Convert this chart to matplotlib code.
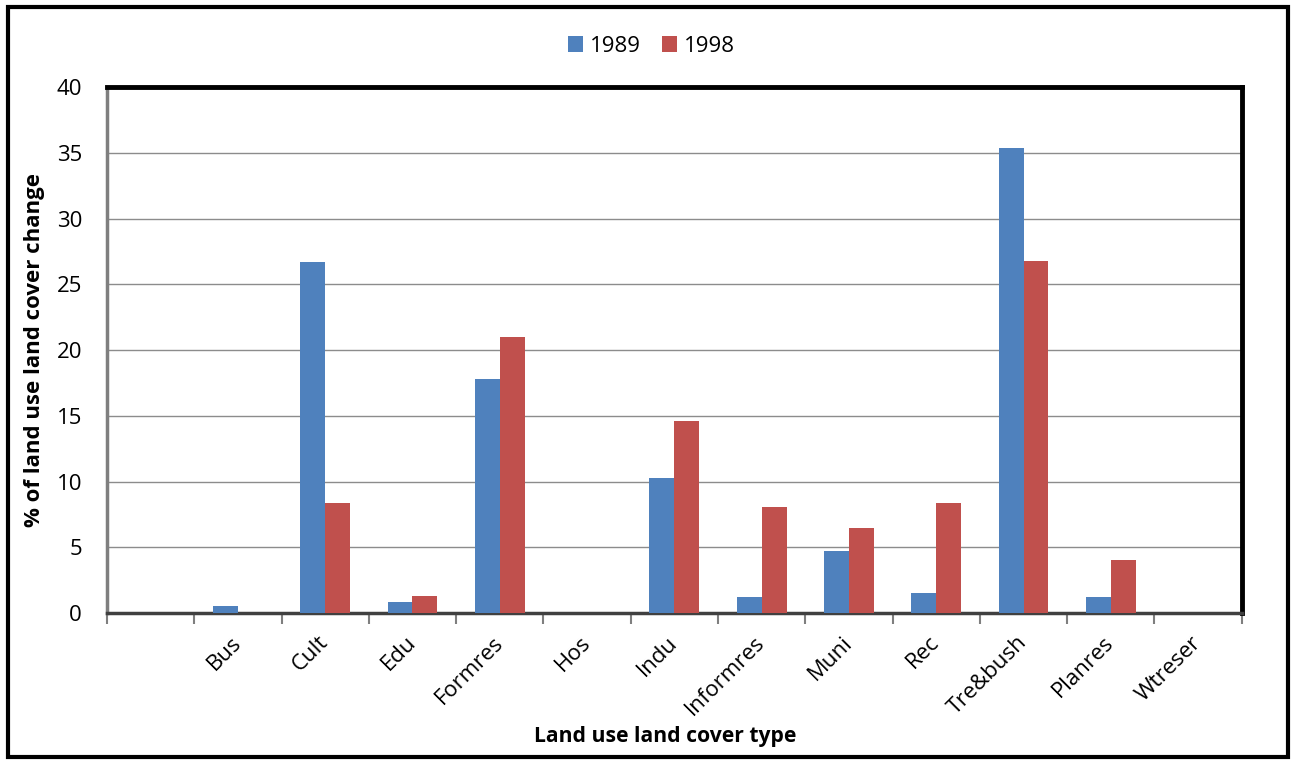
import numpy as np
import matplotlib
matplotlib.use("Agg")
import matplotlib.pyplot as plt
from matplotlib.patches import Rectangle

plt.rcParams['font.family'] = ['Open Sans', 'DejaVu Sans']

# land use / land cover classes (first slot has no class)
categories = ['', 'Bus', 'Cult', 'Edu', 'Formres', 'Hos', 'Indu', 'Informres',
              'Muni', 'Rec', 'Tre&bush', 'Planres', 'Wtreser']
pct_1989 = [0, 0.5, 26.7, 0.8, 17.8, 0, 10.3, 1.2, 4.7, 1.5, 35.4, 1.2, 0]
pct_1998 = [0, 0, 8.4, 1.3, 21.0, 0, 14.6, 8.1, 6.5, 8.4, 26.8, 4.0, 0]
years = ['1989', '1998']
y_ticks = [0, 5, 10, 15, 20, 25, 30, 35, 40]

blue = '#4F81BD'
red = '#C0504D'

fig = plt.figure(figsize=(12.95, 7.6), dpi=100)
ax = fig.add_axes([0.0826, 0.1934, 0.8763, 0.6921])

x = np.arange(len(categories))
w = 1 / 3.5
ax.bar(x - w / 2, pct_1989, width=w, color=blue, label=years[0], zorder=3)
ax.bar(x + w / 2, pct_1998, width=w, color=red, label=years[1], zorder=3)

ax.set_xlim(-0.5, len(categories) - 0.5)
ax.set_ylim(0, 40)
ax.set_yticks(y_ticks)
ax.tick_params(axis='y', labelsize=16, length=0, pad=18)
ax.grid(axis='y', color='#8c8c8c', linewidth=1, zorder=0)

# labels at category centres, tick marks at category boundaries
ax.set_xticks(x)
ax.set_xticklabels(categories, rotation=45, ha='right', va='center',
                   rotation_mode='anchor', fontsize=16)
ax.tick_params(axis='x', which='major', length=0, pad=19)
ax.set_xticks(np.arange(len(categories) + 1) - 0.5, minor=True)
ax.tick_params(axis='x', which='minor', length=8, width=1.5, color='#7f7f7f')

ax.spines['top'].set_linewidth(3.5)
ax.spines['top'].set_color('black')
ax.spines['right'].set_linewidth(3.5)
ax.spines['right'].set_color('black')
ax.spines['left'].set_linewidth(2.5)
ax.spines['left'].set_color('#7f7f7f')
ax.spines['bottom'].set_linewidth(2.5)
ax.spines['bottom'].set_color('#404040')

ax.set_ylabel('% of land use land cover change', fontsize=16, fontweight='bold')
ax.yaxis.set_label_coords(-0.055, 0.5)
ax.set_xlabel('Land use land cover type', fontsize=15.2, fontweight='bold')
ax.xaxis.set_label_coords(0.4916, -0.215)

fig.legend(loc='center', bbox_to_anchor=(0.503, 0.939), ncol=2, frameon=False,
           fontsize=16, handlelength=0.68, handleheight=0.68, handletextpad=0.3,
           columnspacing=0.95)

# outer frame around the whole chart
fig.patches.append(Rectangle((8 / 1295, 3 / 760), 1280 / 1295, 750 / 760,
                             transform=fig.transFigure, fill=False,
                             edgecolor='black', linewidth=3))

fig.savefig('out.png', dpi=100)
